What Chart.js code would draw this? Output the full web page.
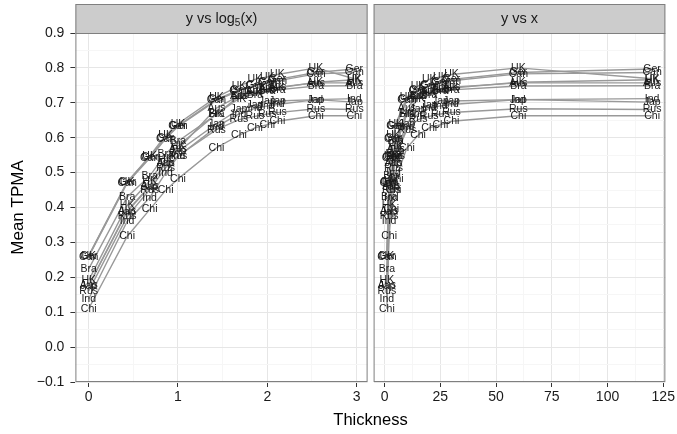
<!DOCTYPE html>
<html>
<head>
<meta charset="utf-8">
<script src="https://cdn.jsdelivr.net/npm/chart.js@4/dist/chart.umd.min.js"></script>
<style>
  html, body { margin: 0; padding: 0; background: #ffffff; }
  #wrap { position: relative; width: 677px; height: 434px; }
  #wrap canvas { position: absolute; left: 0; top: 0; }
</style>
</head>
<body>
<div id="wrap">
  <canvas id="cLog" width="677" height="434"></canvas>
  <canvas id="cLin" width="677" height="434"></canvas>
</div>
<script>
// Thickness levels and mean TPMA per country
const thickness = [1, 2, 3, 4, 5, 10, 15, 20, 25, 30, 60, 120];
const countries = ['Ger', 'Can', 'UK', 'HK', 'Aus', 'Bra', 'Jap', 'Ind', 'Rus', 'Chi'];

const ger = [0.262, 0.473, 0.544, 0.600, 0.634, 0.710, 0.737, 0.751, 0.760, 0.767, 0.787, 0.797];
const can = [0.259, 0.470, 0.541, 0.597, 0.632, 0.707, 0.734, 0.748, 0.757, 0.763, 0.783, 0.787];
const uk  = [0.261, 0.473, 0.547, 0.607, 0.640, 0.716, 0.748, 0.767, 0.774, 0.781, 0.800, 0.769];
const hk  = [0.191, 0.406, 0.476, 0.540, 0.576, 0.668, 0.712, 0.727, 0.736, 0.742, 0.759, 0.766];
const aus = [0.177, 0.390, 0.462, 0.527, 0.566, 0.685, 0.720, 0.733, 0.738, 0.745, 0.757, 0.757];
const bra = [0.224, 0.430, 0.490, 0.553, 0.590, 0.667, 0.719, 0.722, 0.733, 0.737, 0.748, 0.749];
const jap = [0.175, 0.388, 0.459, 0.528, 0.561, 0.640, 0.681, 0.692, 0.706, 0.705, 0.709, 0.702];
const ind = [0.138, 0.360, 0.428, 0.499, 0.546, 0.631, 0.668, 0.684, 0.691, 0.695, 0.709, 0.712];
const rus = [0.161, 0.374, 0.451, 0.514, 0.548, 0.623, 0.652, 0.661, 0.668, 0.672, 0.683, 0.681];
const chi = [0.110, 0.317, 0.394, 0.449, 0.482, 0.571, 0.607, 0.628, 0.637, 0.647, 0.663, 0.663];
const seriesValues = [ger, can, uk, hk, aus, bra, jap, ind, rus, chi];

// Axis ticks and titles
const yTicks = [-0.1, 0.0, 0.1, 0.2, 0.3, 0.4, 0.5, 0.6, 0.7, 0.8, 0.9];
const logTicks = [0, 1, 2, 3];
const linTicks = [0, 25, 50, 75, 100, 125];
const xTitle = 'Thickness';
const yTitle = 'Mean TPMA';

const FONT = "'Liberation Sans', Arial, Helvetica, sans-serif";
const TEXT = '#1a1a1a';
const BORDER = '#7f7f7f';
const GRID_MAJOR = '#e6e6e6';
const GRID_MINOR = '#f6f6f6';

const log5 = v => Math.log(v) / Math.log(5);
const logX = thickness.map(log5);

// 5% expansion of a continuous range
function expanded(vals) {
  const lo = Math.min(...vals), hi = Math.max(...vals), pad = (hi - lo) * 0.05;
  return { min: lo - pad, max: hi + pad };
}

// major ticks plus minor midpoints
function withMinors(major) {
  const out = [];
  major.forEach((v, i) => {
    out.push(v);
    if (i < major.length - 1) out.push((v + major[i + 1]) / 2);
  });
  return out;
}
const yGrid = withMinors(yTicks);

function isMajor(list, v) {
  return list.some(m => Math.abs(m - v) < 1e-9);
}

function datasets(xs) {
  return countries.map((name, i) => ({
    label: name,
    data: xs.map((x, j) => ({ x: x, y: seriesValues[i][j] })),
    borderColor: '#999999',
    borderWidth: 1.4,
    pointRadius: 0,
    pointHoverRadius: 0,
    fill: false,
    tension: 0
  }));
}

const fmtY = v => {
  const s = v.toFixed(1);
  return s === '-0.0' ? '0.0' : s.replace('-', '\u2212');
};

function yScale(showLabels) {
  return {
    type: 'linear',
    min: -0.1,
    max: 0.9,
    afterBuildTicks: s => { s.ticks = yGrid.map(v => ({ value: v })); },
    afterFit: s => { s.width = showLabels ? 75.4 : 0; },
    border: { display: false },
    grid: {
      color: c => (c.tick && isMajor(yTicks, c.tick.value)) ? GRID_MAJOR : GRID_MINOR,
      tickColor: c => (c.tick && isMajor(yTicks, c.tick.value)) ? '#333333' : 'rgba(0,0,0,0)',
      tickLength: 5,
      drawTicks: showLabels,
      lineWidth: 1
    },
    ticks: {
      display: showLabels,
      autoSkip: false,
      padding: 6,
      color: TEXT,
      font: { family: FONT, size: 14 },
      callback: v => isMajor(yTicks, v) ? fmtY(v) : ''
    },
    title: {
      display: showLabels,
      text: yTitle,
      color: '#000000',
      font: { family: FONT, size: 17 },
      padding: { top: 8, bottom: 0 }
    }
  };
}

function xScale(range, major) {
  const grid = withMinors(major);
  return {
    type: 'linear',
    min: range.min,
    max: range.max,
    afterBuildTicks: s => { s.ticks = grid.map(v => ({ value: v })); },
    afterFit: s => { s.height = 52; },
    border: { display: false },
    grid: {
      color: c => (c.tick && isMajor(major, c.tick.value)) ? GRID_MAJOR : GRID_MINOR,
      tickColor: c => (c.tick && isMajor(major, c.tick.value)) ? '#333333' : 'rgba(0,0,0,0)',
      tickLength: 5,
      lineWidth: 1
    },
    ticks: {
      autoSkip: false,
      maxRotation: 0,
      padding: 2,
      color: TEXT,
      font: { family: FONT, size: 14 },
      callback: v => isMajor(major, v) ? String(v) : ''
    }
  };
}

// strip header, panel frame and shared x title
const panelDecor = {
  id: 'panelDecor',
  afterDraw(chart, args, opts) {
    const { ctx, chartArea: a } = chart;
    ctx.save();
    ctx.fillStyle = '#cccccc';
    ctx.fillRect(a.left, 4, a.right - a.left, a.top - 4);
    ctx.strokeStyle = BORDER;
    ctx.lineWidth = 1;
    ctx.strokeRect(a.left + 0.5, 4.5, a.right - a.left - 1, a.top - 4);
    ctx.strokeRect(a.left + 0.5, a.top + 0.5, a.right - a.left - 1, a.bottom - a.top - 1);

    // strip text, with optional subscript
    const cx = (a.left + a.right) / 2, cy = (4 + a.top) / 2 + 0.5;
    const main = `14.5px ${FONT}`, sub = `10px ${FONT}`;
    const parts = opts.parts;
    let w = 0;
    parts.forEach(p => { ctx.font = p.sub ? sub : main; w += ctx.measureText(p.t).width; });
    let x = cx - w / 2;
    ctx.fillStyle = TEXT;
    ctx.textBaseline = 'middle';
    ctx.textAlign = 'left';
    parts.forEach(p => {
      ctx.font = p.sub ? sub : main;
      ctx.fillText(p.t, x, p.sub ? cy + 4.5 : cy);
      x += ctx.measureText(p.t).width;
    });

    if (opts.xTitle) {
      ctx.font = `16.5px ${FONT}`;
      ctx.fillStyle = '#000000';
      ctx.textAlign = 'center';
      ctx.fillText(opts.xTitle, opts.xTitleX, 420);
    }
    ctx.restore();
  }
};

// country name printed at each point
const pointNames = {
  id: 'pointNames',
  afterDatasetsDraw(chart) {
    const { ctx } = chart;
    ctx.save();
    ctx.font = `10.5px ${FONT}`;
    ctx.fillStyle = TEXT;
    ctx.textAlign = 'center';
    ctx.textBaseline = 'middle';
    chart.data.datasets.forEach((ds, i) => {
      chart.getDatasetMeta(i).data.forEach(el => {
        ctx.fillText(ds.label, el.x, el.y);
      });
    });
    ctx.restore();
  }
};

const common = {
  responsive: false,
  animation: false,
  devicePixelRatio: 1,
  events: [],
  plugins: { legend: { display: false }, tooltip: { enabled: false } }
};

new Chart(document.getElementById('cLog'), {
  type: 'line',
  data: { datasets: datasets(logX) },
  options: Object.assign({}, common, {
    layout: { padding: { left: 0, top: 33, right: 309.4, bottom: 0 } },
    scales: {
      x: xScale(expanded(logX), logTicks),
      y: yScale(true)
    },
    plugins: Object.assign({}, common.plugins, {
      panelDecor: { parts: [{ t: 'y vs log' }, { t: '5', sub: true }, { t: '(x)' }], xTitle: xTitle, xTitleX: 370.5 }
    })
  }),
  plugins: [panelDecor, pointNames]
});

new Chart(document.getElementById('cLin'), {
  type: 'line',
  data: { datasets: datasets(thickness) },
  options: Object.assign({}, common, {
    layout: { padding: { left: 373.6, top: 33, right: 11.2, bottom: 0 } },
    scales: {
      x: xScale(expanded(thickness), linTicks),
      y: yScale(false)
    },
    plugins: Object.assign({}, common.plugins, {
      panelDecor: { parts: [{ t: 'y vs x' }] }
    })
  }),
  plugins: [panelDecor, pointNames]
});
</script>
</body>
</html>
